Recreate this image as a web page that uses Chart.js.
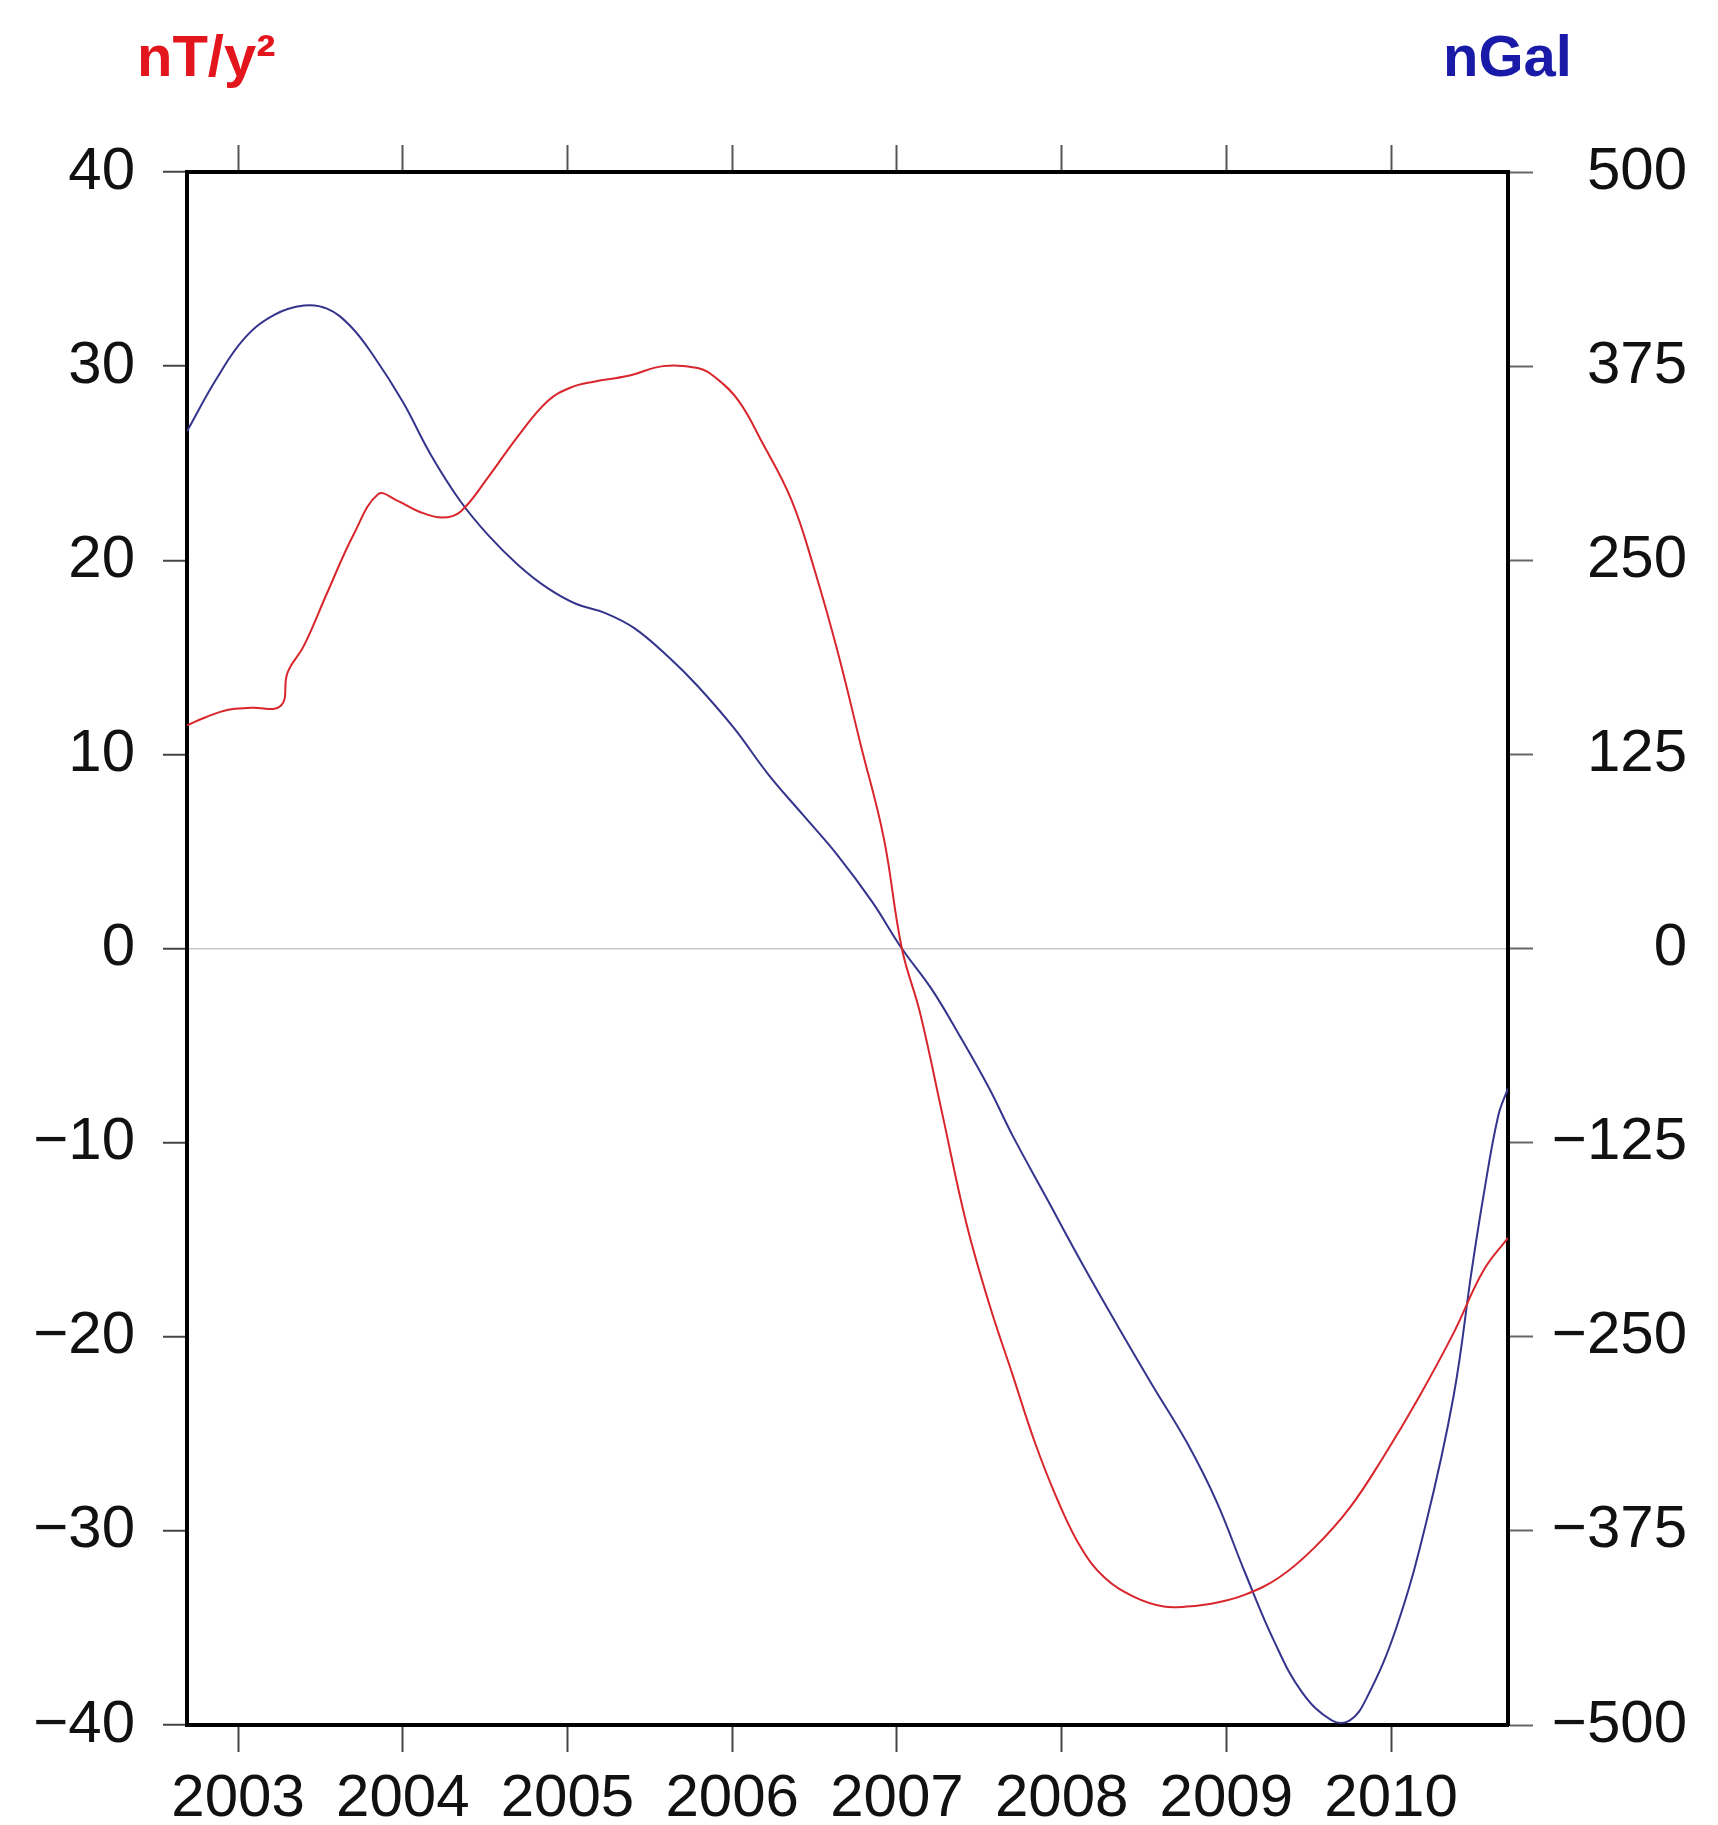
<!DOCTYPE html>
<html>
<head>
<meta charset="utf-8">
<script src="https://cdn.jsdelivr.net/npm/chart.js@4.4.0/dist/chart.umd.min.js"></script>
<style>
    html, body { margin: 0; padding: 0; background: #fff; }
    #wrap { width: 1718px; height: 1825px; }
</style>
</head>
<body>
<div id="wrap"><canvas id="fieldChart" width="1718" height="1825"></canvas></div>
<script>
// eixo x (anos) e marcas dos eixos
const xMin = 2002.69;
const xMax = 2010.71;
const yearTicks = [2003, 2004, 2005, 2006, 2007, 2008, 2009, 2010];
const leftTicks = [-40, -30, -20, -10, 0, 10, 20, 30, 40];
const rightTicks = [-500, -375, -250, -125, 0, 125, 250, 375, 500];

// série vermelha (nT/y²)
const redYears = [2002.69, 2002.80, 2002.94, 2003.08, 2003.26, 2003.30, 2003.40, 2003.54, 2003.70, 2003.85,
    2003.96, 2004.10, 2004.24, 2004.35, 2004.52, 2004.70, 2004.88, 2005.02, 2005.16, 2005.37,
    2005.58, 2005.79, 2005.90, 2006.04, 2006.18, 2006.36, 2006.50, 2006.64, 2006.78, 2006.92,
    2007.03, 2007.14, 2007.28, 2007.42, 2007.56, 2007.70, 2007.84, 2007.98, 2008.12, 2008.26,
    2008.44, 2008.62, 2008.76, 2008.94, 2009.11, 2009.32, 2009.53, 2009.75, 2009.96, 2010.17,
    2010.38, 2010.56, 2010.71];
const redValues = [11.5, 11.9, 12.3, 12.4, 12.5, 14.2, 15.6, 18.3, 21.3, 23.4,
    23.1, 22.5, 22.2, 22.5, 24.3, 26.4, 28.2, 28.9, 29.2, 29.5,
    30.0, 29.9, 29.4, 28.2, 26.1, 23.1, 19.5, 15.3, 10.5, 5.7,
    0.0, -3.3, -8.7, -14.1, -18.3, -21.9, -25.5, -28.5, -30.9, -32.4,
    -33.4, -33.9, -33.9, -33.7, -33.3, -32.4, -30.9, -28.8, -26.1, -23.1,
    -19.8, -16.6, -14.9];

// série azul (nGal)
const blueYears = [2002.69, 2002.87, 2003.04, 2003.22, 2003.40, 2003.54, 2003.68, 2003.82, 2004.00, 2004.17,
    2004.35, 2004.52, 2004.70, 2004.88, 2005.05, 2005.23, 2005.41, 2005.62, 2005.79, 2006.01,
    2006.22, 2006.43, 2006.64, 2006.85, 2007.03, 2007.21, 2007.38, 2007.56, 2007.70, 2007.91,
    2008.12, 2008.34, 2008.55, 2008.76, 2008.94, 2009.11, 2009.29, 2009.46, 2009.64, 2009.75,
    2009.85, 2010.03, 2010.21, 2010.38, 2010.49, 2010.56, 2010.65, 2010.71];
const blueValues = [333, 367, 393, 408, 414, 412, 401, 382, 352, 318,
    288, 266, 247, 232, 222, 216, 206, 187, 169, 142,
    112, 86, 60, 30, 0, -26, -56, -90, -120, -161,
    -202, -243, -281, -318, -356, -401, -446, -479, -497, -497,
    -483, -438, -371, -288, -207, -160, -108, -90];

const FONT = '"Liberation Sans", Arial, Helvetica, sans-serif';

function toPoints(xs, ys) {
    return xs.map((x, i) => ({ x: x, y: ys[i] }));
}

function fmtMinus(v) {
    return v < 0 ? '\u2212' + Math.abs(v) : String(v);
}

// títulos das unidades acima do gráfico
const unitTitles = {
    id: 'unitTitles',
    afterDraw(chart) {
        const ctx = chart.ctx;
        const area = chart.chartArea;
        ctx.save();
        ctx.font = 'bold 58px ' + FONT;
        ctx.textBaseline = 'alphabetic';
        ctx.textAlign = 'left';
        ctx.fillStyle = '#e3161d';
        ctx.fillText('nT/y\u00B2', area.left - 50, 76);
        ctx.fillStyle = '#1a1aa8';
        ctx.fillText('nGal', area.right - 65, 76);
        ctx.restore();
    }
};

const tickFont = { family: FONT, size: 60 };

new Chart(document.getElementById('fieldChart'), {
    type: 'line',
    data: {
        datasets: [{
            label: 'nT/y²',
            data: toPoints(redYears, redValues),
            yAxisID: 'y',
            borderColor: '#d8262c',
            borderWidth: 2,
            pointRadius: 0,
            tension: 0.4,
            fill: false
        }, {
            label: 'nGal',
            data: toPoints(blueYears, blueValues),
            yAxisID: 'y2',
            borderColor: '#34348c',
            borderWidth: 2,
            pointRadius: 0,
            tension: 0.4,
            fill: false
        }]
    },
    options: {
        responsive: false,
        animation: false,
        layout: { padding: { top: 145, right: 31, bottom: 0, left: 0 } },
        plugins: {
            legend: { display: false },
            tooltip: { enabled: false }
        },
        scales: {
            x: {
                type: 'linear',
                position: 'bottom',
                min: xMin,
                max: xMax,
                afterBuildTicks: s => { s.ticks = yearTicks.map(v => ({ value: v })); },
                afterFit: s => { s.height = 100; },
                grid: { drawOnChartArea: false, tickLength: 27, tickColor: '#444', tickWidth: 2 },
                border: { display: true, color: '#000', width: 4 },
                ticks: {
                    color: '#111',
                    font: tickFont,
                    padding: 11,
                    maxRotation: 0,
                    autoSkip: false,
                    callback: v => String(v)
                }
            },
            x2: {
                type: 'linear',
                position: 'top',
                min: xMin,
                max: xMax,
                afterBuildTicks: s => { s.ticks = yearTicks.map(v => ({ value: v })); },
                afterFit: s => { s.height = 27; },
                grid: { drawOnChartArea: false, tickLength: 27, tickColor: '#555', tickWidth: 2 },
                border: { display: true, color: '#000', width: 4 },
                ticks: { display: false }
            },
            y: {
                type: 'linear',
                position: 'left',
                min: -40,
                max: 40,
                afterBuildTicks: s => { s.ticks = leftTicks.map(v => ({ value: v })); },
                afterFit: s => { s.width = 187; },
                grid: {
                    drawOnChartArea: true,
                    color: c => c.tick && c.tick.value === 0 ? '#c8c8c8' : 'rgba(0,0,0,0)',
                    lineWidth: 1.5,
                    tickLength: 24,
                    tickColor: '#444',
                    tickWidth: 2
                },
                border: { display: true, color: '#000', width: 4 },
                ticks: {
                    color: '#111',
                    font: tickFont,
                    padding: 28,
                    autoSkip: false,
                    callback: v => fmtMinus(v)
                }
            },
            y2: {
                type: 'linear',
                position: 'right',
                min: -500,
                max: 500,
                afterBuildTicks: s => { s.ticks = rightTicks.map(v => ({ value: v })); },
                afterFit: s => { s.width = 179; },
                grid: { drawOnChartArea: false, tickLength: 25, tickColor: '#666', tickWidth: 2 },
                border: { display: true, color: '#000', width: 4 },
                ticks: {
                    color: '#111',
                    font: tickFont,
                    padding: 25,
                    crossAlign: 'far',
                    autoSkip: false,
                    callback: v => fmtMinus(v)
                }
            }
        }
    },
    plugins: [unitTitles]
});
</script>
</body>
</html>
